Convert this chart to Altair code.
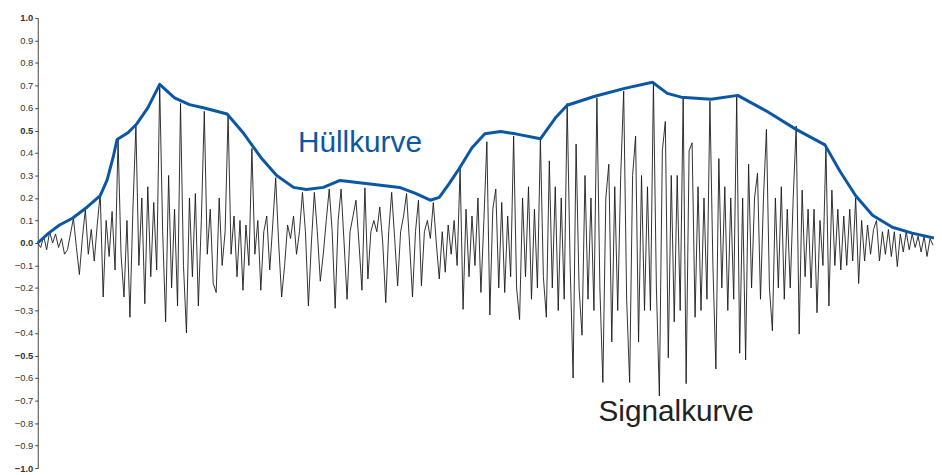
import altair as alt
import pandas as pd

# ---- data ----
SAMPLE_STEP = 3  # time units between signal samples

signal_values = [
    0.0, -0.02, 0.03, -0.03, 0.05, 0.0, 0.04, -0.02, 0.02, -0.05,
    -0.03, 0.04, 0.11, -0.02, -0.14, 0.02, 0.15, -0.05, 0.06, -0.08,
    0.08, 0.22, -0.24, 0.1, -0.06, 0.14, -0.12, 0.46, -0.05, -0.24,
    0.1, -0.33, 0.15, 0.52, -0.1, 0.2, -0.27, 0.25, -0.15, 0.18,
    -0.12, 0.70, 0.05, -0.35, 0.3, -0.2, 0.15, -0.28, 0.62, -0.1,
    -0.40, 0.2, -0.15, 0.22, -0.28, 0.1, 0.585, -0.05, 0.15, -0.18,
    -0.22, 0.2, -0.1, 0.05, 0.57, -0.05, 0.12, -0.15, 0.1, -0.21,
    0.08, -0.1, 0.42, -0.05, 0.1, -0.21, 0.05, 0.12, -0.12, 0.08,
    0.29, 0.0, -0.24, -0.1, 0.08, 0.02, 0.12, -0.05, 0.05, 0.225,
    0.05, -0.28, 0.0, 0.225, 0.05, -0.17, -0.05, 0.1, 0.24, 0.05,
    -0.29, 0.1, 0.24, 0.0, -0.25, 0.05, 0.12, 0.19, 0.0, -0.21,
    0.245, -0.16, 0.05, 0.1, 0.05, 0.16, 0.0, -0.265, 0.05, 0.225,
    0.02, -0.19, 0.05, 0.12, 0.22, 0.0, -0.24, 0.05, 0.19, -0.19,
    0.05, 0.1, 0.02, 0.18, 0.0, -0.16, 0.05, -0.13, 0.08, -0.05,
    0.1, -0.1, 0.33, -0.295, 0.15, -0.15, 0.12, -0.1, 0.2, -0.22,
    0.1, 0.45, -0.32, 0.15, 0.24, -0.2, 0.18, -0.22, 0.12, -0.15,
    0.475, -0.2, -0.34, 0.2, -0.15, 0.25, -0.25, 0.15, -0.2, 0.46,
    -0.15, -0.33, 0.365, -0.2, 0.25, -0.3, 0.2, -0.25, 0.62, -0.1,
    -0.60, 0.44, -0.2, -0.41, 0.3, -0.25, 0.2, -0.3, 0.645, -0.2,
    -0.62, 0.2, 0.35, -0.44, 0.25, -0.3, 0.3, 0.675, -0.25, -0.62,
    0.3, 0.475, -0.44, 0.3, -0.3, 0.25, -0.3, 0.71, -0.2, -0.68,
    0.41, 0.54, -0.51, 0.3, -0.35, 0.3, -0.3, 0.645, -0.625, 0.41,
    0.445, -0.33, 0.25, -0.3, 0.2, -0.25, 0.63, -0.1, -0.56, 0.375,
    -0.2, 0.25, -0.3, 0.2, -0.25, 0.65, -0.49, 0.2, -0.52, 0.35,
    -0.2, 0.2, 0.31, -0.25, 0.2, 0.505, -0.2, -0.39, 0.2, -0.2,
    0.25, -0.25, 0.15, -0.2, 0.2, 0.52, -0.405, 0.235, -0.15, 0.15,
    -0.2, 0.15, -0.31, 0.1, -0.1, 0.43, -0.28, 0.235, -0.1, 0.15,
    -0.12, 0.12, -0.1, 0.15, -0.08, 0.2, -0.18, 0.1, -0.08, 0.08,
    -0.05, 0.06, 0.1, -0.08, 0.05, -0.05, 0.06, -0.06, 0.05, -0.105,
    0.04, -0.04, 0.05, -0.03, 0.04, -0.02, 0.03, -0.04, 0.03, -0.06,
    0.02, -0.01,
]
signal_time = [i * SAMPLE_STEP for i in range(len(signal_values))]

envelope_time = [0, 11, 22, 35, 50, 63, 70, 76, 80, 91, 100, 111, 123, 138, 153,
                 168, 191, 208, 225, 241, 258, 271, 288, 305, 331, 365, 381, 396,
                 405, 415, 425, 438, 451, 467, 482, 507, 522, 534, 562, 592, 620,
                 635, 649, 679, 706, 735, 764, 794, 809, 825, 842, 862, 882, 904]
envelope_values = [0.0, 0.044, 0.08, 0.11, 0.16, 0.21, 0.28, 0.38, 0.46, 0.49, 0.53,
                   0.60, 0.705, 0.645, 0.615, 0.60, 0.573, 0.485, 0.38, 0.30, 0.247,
                   0.238, 0.247, 0.278, 0.264, 0.247, 0.22, 0.19, 0.203, 0.264, 0.33,
                   0.423, 0.485, 0.495, 0.485, 0.463, 0.555, 0.612, 0.652, 0.687,
                   0.714, 0.665, 0.648, 0.639, 0.656, 0.586, 0.507, 0.436, 0.32, 0.21,
                   0.123, 0.07, 0.044, 0.022]

label_texts = ["Hüllkurve", "Signalkurve"]
label_time = [325, 644]
label_values = [0.403, -0.791]
label_colors = ["#0b57a4", "#222222"]

y_ticks = [round(-1.0 + 0.1 * i, 1) for i in range(21)]

signal_df = pd.DataFrame({"t": signal_time, "v": signal_values})
env_df = pd.DataFrame({"t": envelope_time, "v": envelope_values})
lab_df = pd.DataFrame({"t": label_time, "v": label_values,
                       "text": label_texts, "color": label_colors})

x_scale = alt.Scale(domain=[0, 904], nice=False, zero=False)
y_scale = alt.Scale(domain=[-1.0, 1.0], nice=False)


def y_axis():
    return alt.Axis(
        values=y_ticks, format=".1f", title=None, grid=False,
        tickSize=3, labelPadding=2, labelFontSize=9.5, labelColor="#333333",
        labelFont="Liberation Sans", labelOverlap=False, labelFlush=False,
        labelFontWeight=alt.ExprRef(
            "abs(datum.value*2 - round(datum.value*2)) < 0.01 ? 'bold' : 'normal'"),
        domainColor="#444444", tickColor="#444444", domainWidth=1,
    )


signal = alt.Chart(signal_df).mark_line(color="#1a1a1a", strokeWidth=0.9).encode(
    x=alt.X("t:Q", scale=x_scale, axis=None),
    y=alt.Y("v:Q", scale=y_scale, axis=y_axis()),
)

envelope = alt.Chart(env_df).mark_line(color="#0b57a4", strokeWidth=3,
                                       strokeJoin="round").encode(
    x=alt.X("t:Q", scale=x_scale, axis=None),
    y=alt.Y("v:Q", scale=y_scale, axis=y_axis()),
)

labels = alt.Chart(lab_df).mark_text(
    font="Liberation Sans", fontSize=30, align="center", baseline="alphabetic"
).encode(
    x=alt.X("t:Q", scale=x_scale, axis=None),
    y=alt.Y("v:Q", scale=y_scale, axis=y_axis()),
    text="text:N",
    color=alt.Color("color:N", scale=None),
)

chart = alt.layer(signal, envelope, labels).properties(
    width=904, height=454,
    autosize=alt.AutoSizeParams(type="none"),
    padding={"left": 30, "top": 8, "right": 0, "bottom": 5},
    background="white",
).configure_view(strokeWidth=0)

chart.save("out.html", embed_options={"renderer": "svg", "actions": False})
